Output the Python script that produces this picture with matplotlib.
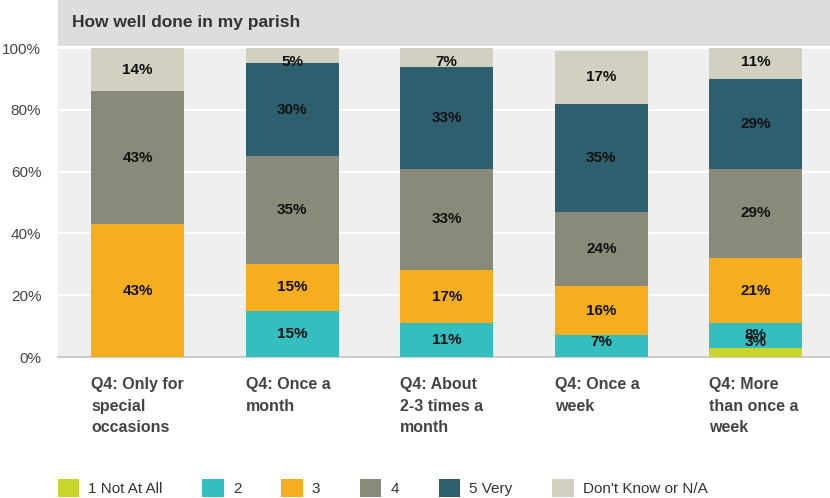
import matplotlib.pyplot as plt
import numpy as np
from matplotlib.patches import Rectangle

plt.rcParams['font.family'] = ['Liberation Sans Narrow', 'Liberation Sans', 'DejaVu Sans']

# Data
categories = ["Q4: Only for\nspecial\noccasions", "Q4: Once a\nmonth",
              "Q4: About\n2-3 times a\nmonth", "Q4: Once a\nweek",
              "Q4: More\nthan once a\nweek"]
series_names = ["1 Not At All", "2", "3", "4", "5 Very", "Don't Know or N/A"]
not_at_all = [0, 0, 0, 0, 3]
two = [0, 15, 11, 7, 8]
three = [43, 15, 17, 16, 21]
four = [43, 35, 33, 24, 29]
very = [0, 30, 33, 35, 29]
dont_know = [14, 5, 7, 17, 11]
colors = ["#c9d42c", "#35bec0", "#f6ae1f", "#898a79", "#2e5f6f", "#d1d0c1"]

series = [not_at_all, two, three, four, very, dont_know]

fig = plt.figure(figsize=(8.3, 4.98), dpi=100)
ax = fig.add_axes([58/830, 1 - 357/498, 1 - 58/830, 309/498])
ax.set_facecolor("#efefef")

# title band
fig.patches.append(Rectangle((58/830, 1 - 46/498), 1 - 58/830, 46/498,
                             transform=fig.transFigure, facecolor="#dddddd",
                             edgecolor="none", zorder=0))
fig.text(72/830, 1 - 22/498, "How well done in my parish", fontsize=12.5,
         fontweight='bold', color="#333333", va='center', ha='left')

x = np.arange(len(categories))
width = 0.6
bottom = np.zeros(len(categories))
for vals, col in zip(series, colors):
    vals = np.array(vals, dtype=float)
    ax.bar(x, vals, width, bottom=bottom, color=col, zorder=3, linewidth=0)
    for xi, b, v in zip(x, bottom, vals):
        if v > 0:
            yc = min(max(b + v / 2, 5), 95.5)
            ax.text(xi, yc, f"{int(v)}%", ha='center', va='center',
                    fontsize=11, fontweight='bold', color="#111111", zorder=5)
    bottom += vals

ax.set_xlim(-0.515, 4.48)
ax.set_ylim(0, 100)
ax.set_yticks([0, 20, 40, 60, 80, 100])
ax.set_yticklabels(["0%", "20%", "40%", "60%", "80%", "100%"],
                   fontsize=11, color="#444444")
ax.tick_params(axis='y', length=0, pad=12)
ax.grid(axis='y', color='white', linewidth=1.5, zorder=1)
ax.set_axisbelow(True)
for s in ['top', 'right', 'left']:
    ax.spines[s].set_visible(False)
ax.spines['bottom'].set_color("#cccccc")
ax.spines['bottom'].set_linewidth(1.5)

ax.set_xticks(x)
ax.set_xticklabels([])
ax.tick_params(axis='x', length=0)
for xi, lab in zip(x, categories):
    ax.text(xi - width / 2, -6.5, lab, ha='left', va='top', fontsize=11.5,
            fontweight='bold', color="#444444", linespacing=1.55,
            transform=ax.transData, clip_on=False)

# legend
handles = [Rectangle((0, 0), 1, 1, facecolor=c, edgecolor='none') for c in colors]
leg = fig.legend(handles, series_names, loc='center', ncol=6,
                 bbox_to_anchor=(0.461, 1 - 488/498), frameon=False,
                 fontsize=11, handlelength=1.4, handleheight=1.4,
                 columnspacing=2.6, handletextpad=0.6)
for t in leg.get_texts():
    t.set_color("#333333")

fig.savefig("out.png", dpi=100)
